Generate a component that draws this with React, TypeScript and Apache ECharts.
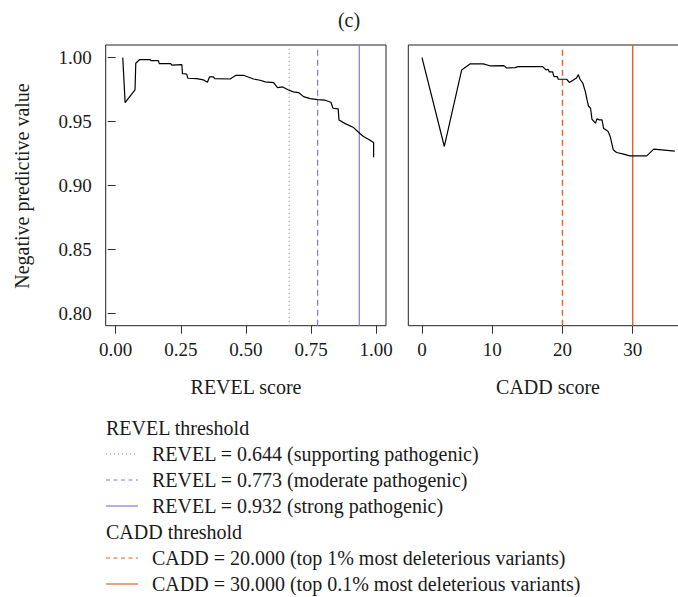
import React, { useEffect, useRef } from "react";
import * as echarts from "echarts";

// REVEL panel curve (REVEL score, negative predictive value)
const revelScore = [0.027, 0.036, 0.074, 0.077, 0.091, 0.132, 0.135, 0.164, 0.167, 0.211, 0.215, 0.254, 0.256, 0.272, 0.277, 0.311, 0.337, 0.352, 0.360, 0.375, 0.380, 0.439, 0.462, 0.490, 0.529, 0.554, 0.574, 0.606, 0.621, 0.641, 0.663, 0.682, 0.702, 0.721, 0.746, 0.775, 0.804, 0.826, 0.834, 0.854, 0.857, 0.881, 0.913, 0.936, 0.951, 0.970, 0.990, 0.990];
const revelNPV = [1.000, 0.9648, 0.9747, 0.9956, 0.9984, 0.9984, 0.9977, 0.9977, 0.9953, 0.9953, 0.9942, 0.9945, 0.9875, 0.9872, 0.9839, 0.9836, 0.9826, 0.9807, 0.9849, 0.9849, 0.9836, 0.9833, 0.9862, 0.9862, 0.9833, 0.9823, 0.9810, 0.9805, 0.9766, 0.9771, 0.9747, 0.9732, 0.9727, 0.9695, 0.9680, 0.9672, 0.9667, 0.9651, 0.9604, 0.9599, 0.9513, 0.9484, 0.9453, 0.9409, 0.9383, 0.9362, 0.9336, 0.9221];

// CADD panel curve (CADD score, negative predictive value)
const caddScore = [0, 3.18, 5.65, 6.83, 8.73, 9.78, 11.67, 12.05, 13.24, 13.70, 17.18, 17.65, 17.95, 18.13, 18.60, 18.80, 19.27, 19.40, 20.60, 21.00, 21.55, 22.00, 22.26, 22.50, 22.90, 23.26, 23.50, 23.70, 24.00, 24.20, 24.50, 24.70, 24.90, 25.25, 25.63, 25.87, 26.20, 26.50, 26.80, 27.24, 27.70, 28.57, 29.60, 32.00, 33.00, 36.00];
const caddNPV = [1.000, 0.9305, 0.9904, 0.9951, 0.9951, 0.9935, 0.9938, 0.9919, 0.9922, 0.9930, 0.9930, 0.9904, 0.9909, 0.9888, 0.9888, 0.9852, 0.9852, 0.9831, 0.9831, 0.9805, 0.9826, 0.9841, 0.9867, 0.9831, 0.9800, 0.9734, 0.9670, 0.9622, 0.9604, 0.9518, 0.9500, 0.9487, 0.9521, 0.9513, 0.9513, 0.9445, 0.9435, 0.9422, 0.9383, 0.9279, 0.9258, 0.9247, 0.9232, 0.9232, 0.9284, 0.9268];

// Threshold lines (positions as drawn) and legend labels
const revelLineX = [0.666, 0.775, 0.935];
const revelLineTypes = ["dotted", "dashed", "solid"];
const revelLabels = [
  "REVEL = 0.644 (supporting pathogenic)",
  "REVEL = 0.773 (moderate pathogenic)",
  "REVEL = 0.932 (strong pathogenic)",
];
const caddLineX = [20, 30];
const caddLineTypes = ["dashed", "solid"];
const caddLabels = [
  "CADD = 20.000 (top 1% most deleterious variants)",
  "CADD = 30.000 (top 0.1% most deleterious variants)",
];

// Ticks
const yTicks = [0.8, 0.85, 0.9, 0.95, 1.0];
const revelTicks = [0, 0.25, 0.5, 0.75, 1.0];
const caddTicks = [0, 10, 20, 30];

const FONT = "'Liberation Serif', 'Times New Roman', serif";
const PURPLE = "#8478dc";
const ORANGE = "#e4612a";
const Y_MIN = 0.7903;
const Y_MAX = 1.0099;

function dashFor(t: string): any {
  if (t === "dotted") return [1, 3];
  if (t === "dashed") return [6, 4];
  return "solid";
}

export default function App() {
  const ref = useRef<HTMLDivElement>(null);

  useEffect(() => {
    if (!ref.current) return;
    const chart = echarts.init(ref.current, undefined, { renderer: "svg" });

    const axisLabelBase = {
      fontFamily: FONT,
      fontSize: 19,
      color: "#1a1a1a",
    };
    const tickBase = { show: true, length: 8, lineStyle: { color: "#333", width: 1 } };

    const series: any[] = [];
    revelLineX.forEach((x, i) => {
      series.push({
        type: "line",
        xAxisIndex: 0,
        yAxisIndex: 0,
        data: [[x, Y_MIN], [x, Y_MAX]],
        symbol: "none",
        silent: true,
        lineStyle: { color: PURPLE, width: 1.2, type: dashFor(revelLineTypes[i]) },
      });
    });
    caddLineX.forEach((x, i) => {
      series.push({
        type: "line",
        xAxisIndex: 1,
        yAxisIndex: 1,
        data: [[x, Y_MIN], [x, Y_MAX]],
        symbol: "none",
        silent: true,
        lineStyle: { color: ORANGE, width: 1.4, type: dashFor(caddLineTypes[i]) },
      });
    });
    series.push({
      type: "line",
      xAxisIndex: 0,
      yAxisIndex: 0,
      data: revelScore.map((x, i) => [x, revelNPV[i]]),
      symbol: "none",
      lineStyle: { color: "#000", width: 1.2 },
    });
    series.push({
      type: "line",
      xAxisIndex: 1,
      yAxisIndex: 1,
      data: caddScore.map((x, i) => [x, caddNPV[i]]),
      symbol: "none",
      lineStyle: { color: "#000", width: 1.2 },
    });

    const legendRows: any[] = [];
    const rowY0 = 428;
    const step = 26;
    const textStyle = (text: string, x: number, y: number) => ({
      type: "text",
      x,
      y,
      style: {
        text,
        font: `20px ${FONT}`,
        fill: "#1a1a1a",
        align: "left",
        verticalAlign: "middle",
        textAlign: "left",
        textVerticalAlign: "middle",
      },
    });
    const lineSample = (y: number, color: string, t: string) => ({
      type: "line",
      shape: { x1: 106, y1: y, x2: 138, y2: y },
      style: { stroke: color, lineWidth: 1.2, lineDash: t === "solid" ? null : t === "dotted" ? [1, 3] : [4, 3.5] },
    });
    let row = 0;
    legendRows.push(textStyle("REVEL threshold", 106, rowY0 + step * row++));
    revelLabels.forEach((lab, i) => {
      const y = rowY0 + step * row++;
      legendRows.push(lineSample(y, PURPLE, revelLineTypes[i]));
      legendRows.push(textStyle(lab, 152, y));
    });
    legendRows.push(textStyle("CADD threshold", 106, rowY0 + step * row++));
    caddLabels.forEach((lab, i) => {
      const y = rowY0 + step * row++;
      legendRows.push(lineSample(y, ORANGE, caddLineTypes[i]));
      legendRows.push(textStyle(lab, 152, y));
    });

    const centered = (text: string, x: number, y: number, rotation = 0) => ({
      type: "text",
      x,
      y,
      rotation,
      style: {
        text,
        font: `20px ${FONT}`,
        fill: "#1a1a1a",
        align: "center",
        verticalAlign: "middle",
        textAlign: "center",
        textVerticalAlign: "middle",
      },
    });

    chart.setOption({
      animation: false,
      backgroundColor: "#fff",
      grid: [
        { left: 105.7, top: 45, width: 280.3, height: 280.7, show: true, borderColor: "#222", borderWidth: 1, backgroundColor: "transparent" },
        { left: 408.3, top: 45, width: 369.7, height: 280.7, show: true, borderColor: "#222", borderWidth: 1, backgroundColor: "transparent" },
      ],
      xAxis: [
        {
          type: "value",
          gridIndex: 0,
          min: -0.0385,
          max: 1.0375,
          axisLine: { show: false },
          axisTick: { ...tickBase, customValues: revelTicks },
          axisLabel: { ...axisLabelBase, margin: 14, customValues: revelTicks, formatter: (v: number) => v.toFixed(2) },
          splitLine: { show: false },
        },
        {
          type: "value",
          gridIndex: 1,
          min: -1.95,
          max: 50.69,
          axisLine: { show: false },
          axisTick: { ...tickBase, customValues: caddTicks },
          axisLabel: { ...axisLabelBase, margin: 14, customValues: caddTicks, formatter: (v: number) => String(v) },
          splitLine: { show: false },
        },
      ],
      yAxis: [
        {
          type: "value",
          gridIndex: 0,
          min: Y_MIN,
          max: Y_MAX,
          axisLine: { show: false },
          axisTick: { ...tickBase, customValues: yTicks },
          axisLabel: { ...axisLabelBase, margin: 14, customValues: yTicks, formatter: (v: number) => v.toFixed(2) },
          splitLine: { show: false },
        },
        {
          type: "value",
          gridIndex: 1,
          min: Y_MIN,
          max: Y_MAX,
          axisLine: { show: false },
          axisTick: { show: false },
          axisLabel: { show: false },
          splitLine: { show: false },
        },
      ],
      series,
      graphic: [
        centered("(c)", 349, 20),
        centered("Negative predictive value", 22, 186, Math.PI / 2),
        centered("REVEL score", 246, 387),
        centered("CADD score", 548, 387),
        ...legendRows,
      ],
    });

    return () => chart.dispose();
  }, []);

  return (
    <div
      style={{ position: "fixed", left: 0, top: 0, width: 678, height: 597, overflow: "hidden", background: "#fff" }}
    >
      <div ref={ref} style={{ width: 820, height: 597 }} />
    </div>
  );
}
